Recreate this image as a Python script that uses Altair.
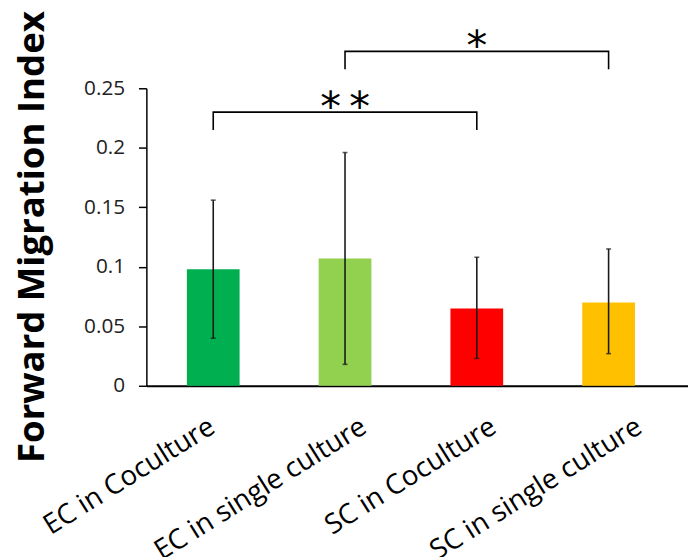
import altair as alt
import pandas as pd

categories = ["EC in Coculture", "EC in single culture", "SC in Coculture", "SC in single culture"]
means = [0.098, 0.107, 0.065, 0.070]
err_low = [0.040, 0.018, 0.023, 0.027]
err_high = [0.156, 0.196, 0.108, 0.115]
colors = ["#00B050", "#92D050", "#FF0000", "#FFC000"]
label_offsets = [-8, 12, 10, 24]

bracket_id = ["b1", "b1", "b1", "b1", "b2", "b2", "b2", "b2"]
bracket_x = [categories[0], categories[0], categories[2], categories[2],
             categories[1], categories[1], categories[3], categories[3]]
bracket_y = [0.215, 0.230, 0.230, 0.215, 0.266, 0.281, 0.281, 0.266]
bracket_order = [0, 1, 2, 3, 0, 1, 2, 3]

star_text = ["*\u2009*", "*"]
star_x = [categories[1], categories[2]]
star_y = [0.230, 0.281]

y_ticks = [0, 0.05, 0.1, 0.15, 0.2, 0.25]

bars_df = pd.DataFrame({"cat": categories, "mean": means, "lo": err_low, "hi": err_high})
br_df = pd.DataFrame({"id": bracket_id, "cat": bracket_x, "y": bracket_y, "o": bracket_order})
st_df = pd.DataFrame({"cat": star_x, "y": star_y, "t": star_text})

label_font = "Open Sans"

offset_cond = {
    "condition": [
        {"test": f"datum.value == '{c}'", "value": o}
        for c, o in zip(categories[1:], label_offsets[1:])
    ],
    "value": label_offsets[0],
}

x_scale = alt.Scale(domain=categories, paddingInner=0.6, paddingOuter=0.355, align=0.433)
y_scale = alt.Scale(domain=[0, 0.25], nice=False, zero=True)

x_enc = alt.X(
    "cat:N",
    scale=x_scale,
    sort=categories,
    axis=alt.Axis(
        title=None,
        ticks=False,
        domainColor="#000000",
        domainWidth=2,
        labelAngle=-32,
        labelAlign="right",
        labelBaseline="top",
        labelPadding=27,
        labelFont=label_font,
        labelFontSize=28,
        labelColor="#000000",
        labelOffset=offset_cond,
        labelLimit=400,
    ),
)

y_enc = alt.Y(
    "mean:Q",
    scale=y_scale,
    axis=alt.Axis(
        title="Forward Migration Index",
        titleFont=label_font,
        titleFontSize=37,
        titleFontWeight="bold",
        titleColor="#000000",
        titleAngle=270,
        titleBaseline="alphabetic",
        titleAlign="center",
        titleX=-104,
        titleY=150,
        values=y_ticks,
        format="~g",
        grid=False,
        domainColor="#000000",
        domainWidth=1.5,
        tickColor="#000000",
        tickWidth=1.5,
        tickSize=8,
        labelPadding=14,
        labelFont=label_font,
        labelFontSize=21,
        labelColor="#222222",
    ),
)

bars = alt.Chart(bars_df).mark_bar().encode(
    x=x_enc,
    y=y_enc,
    color=alt.Color("cat:N", scale=alt.Scale(domain=categories, range=colors), legend=None),
)

err = alt.Chart(bars_df).mark_rule(color="#1a1a1a", strokeWidth=1.6).encode(
    x=alt.X("cat:N", scale=x_scale, sort=categories),
    y=alt.Y("lo:Q", scale=y_scale),
    y2="hi:Q",
)
cap_lo = alt.Chart(bars_df).mark_tick(color="#1a1a1a", thickness=1.6, size=5).encode(
    x=alt.X("cat:N", scale=x_scale, sort=categories),
    y=alt.Y("lo:Q", scale=y_scale),
)
cap_hi = alt.Chart(bars_df).mark_tick(color="#1a1a1a", thickness=1.6, size=5).encode(
    x=alt.X("cat:N", scale=x_scale, sort=categories),
    y=alt.Y("hi:Q", scale=y_scale),
)

brackets = alt.Chart(br_df).mark_line(color="#000000", strokeWidth=1.6).encode(
    x=alt.X("cat:N", scale=x_scale, sort=categories),
    y=alt.Y("y:Q", scale=y_scale),
    detail="id:N",
    order="o:Q",
)

stars = alt.Chart(st_df).mark_text(
    font="DejaVu Sans", fontSize=42, color="#000000", baseline="alphabetic", align="center", dy=9
).encode(
    x=alt.X("cat:N", scale=x_scale, sort=categories),
    y=alt.Y("y:Q", scale=y_scale),
    text="t:N",
)

chart = alt.layer(bars, err, cap_lo, cap_hi, brackets, stars).properties(
    width=548,
    height=301,
    autosize=alt.AutoSizeParams(type="none"),
    padding={"left": 140, "top": 78, "right": 0, "bottom": 170},
).configure_view(stroke=None)

chart.save("out.html", embed_options={"renderer": "svg", "actions": False})
